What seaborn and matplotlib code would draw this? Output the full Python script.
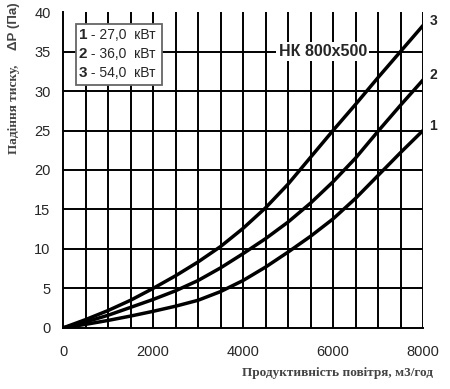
import numpy as np
import pandas as pd
import matplotlib
matplotlib.use('Agg')
import matplotlib.pyplot as plt
import seaborn as sns

# airflow, m3/h
flow = [0, 500, 1000, 1500, 2000, 2500, 3000, 3500, 4000, 4500,
        5000, 5500, 6000, 6500, 7000, 7500, 8000]
# pressure drop, Pa
dp_1 = [0, 0.45, 0.95, 1.5, 2.1, 2.75, 3.5, 4.6, 6.0, 7.7,
        9.6, 11.6, 13.8, 16.4, 19.3, 22.2, 25.0]
dp_2 = [0, 0.75, 1.6, 2.6, 3.6, 4.7, 6.0, 7.6, 9.4, 11.3,
        13.4, 15.8, 18.5, 21.5, 24.9, 28.2, 31.4]
dp_3 = [0, 1.05, 2.2, 3.5, 5.0, 6.6, 8.35, 10.3, 12.6, 15.2,
        18.2, 21.6, 25.0, 28.3, 31.7, 35.0, 38.3]
curve_names = ['1', '2', '3']
legend_nums = ['1', '2', '3']
legend_text = [' - 27,0  кВт', ' - 36,0  кВт', ' - 54,0  кВт']
x_ticks = [0, 2000, 4000, 6000, 8000]
y_ticks = [0, 5, 10, 15, 20, 25, 30, 35, 40]

df = pd.DataFrame({
    'flow': flow * 3,
    'dp': dp_1 + dp_2 + dp_3,
    'curve': [n for n in curve_names for _ in flow],
})

sns.set_style('white')
plt.rcParams['font.family'] = ['Liberation Sans', 'DejaVu Sans']

fig = plt.figure(figsize=(4.5, 3.89), dpi=100)
ax = fig.add_axes([0.14, 0.157, 0.8, 0.812])

# grid
for gx in np.arange(500, 8001, 500):
    ax.axvline(gx, color='black', lw=1.4, zorder=1)
for gy in np.arange(5, 36, 5):
    ax.axhline(gy, color='black', lw=1.4, zorder=1)

sns.lineplot(data=df, x='flow', y='dp', hue='curve',
             palette=['black'] * 3, linewidth=2.5, legend=False,
             ax=ax, zorder=3)
for ln in ax.get_lines()[-3:]:
    ln.set_solid_joinstyle('round')

ax.set_xlim(0, 8000)
ax.set_ylim(0, 40)
ax.set_xticks(x_ticks)
ax.set_yticks(y_ticks)
ax.tick_params(direction='out', length=5, width=1.2, color='black',
               labelsize=10.5, pad=4)
ax.tick_params(axis='x', pad=7)
for s in ['top', 'right']:
    ax.spines[s].set_visible(False)
for s in ['left', 'bottom']:
    ax.spines[s].set_color('black')
    ax.spines[s].set_linewidth(1.4)
ax.set_xlabel('')
ax.set_ylabel('')

# curve numbers on the right
for name, vals in zip(curve_names, [dp_1, dp_2, dp_3]):
    ax.text(8230, vals[-1] + 0.6, name, fontsize=10, fontweight='bold',
            ha='center', va='center', clip_on=False)

# model name
ax.text(5770, 35, 'НК 800x500', fontsize=11.5, fontweight='bold',
        ha='center', va='center', zorder=4,
        bbox=dict(facecolor='white', edgecolor='none', pad=1.5))

# legend box
ax.add_patch(plt.Rectangle((290, 30.8), 1910, 7.7, facecolor='white',
                           edgecolor='#666666', lw=1.3, zorder=4))
for num, rest, yy in zip(legend_nums, legend_text, [37.1, 34.7, 32.3]):
    ax.text(350, yy, num, fontsize=11, fontweight='bold',
            ha='left', va='center', zorder=5)
    ax.text(540, yy, rest, fontsize=10, ha='left', va='center', zorder=5)

# axis titles
fig.text(0.962, 0.04, 'Продуктивність повітря, м3/год', ha='right',
         va='center', fontsize=9.5, fontweight='bold', color='#444444',
         family=['Liberation Serif', 'DejaVu Serif'])
fig.text(0.031, 0.833, 'Падіння тиску,', rotation=90, ha='center',
         va='top', fontsize=9.5, fontweight='bold', color='#444444',
         family=['Liberation Serif', 'DejaVu Serif'])
fig.text(0.031, 0.871, 'ΔР (Па)', rotation=90, ha='center', va='bottom',
         fontsize=9.5, fontweight='bold', color='#444444')

fig.savefig('out.png', dpi=100)
